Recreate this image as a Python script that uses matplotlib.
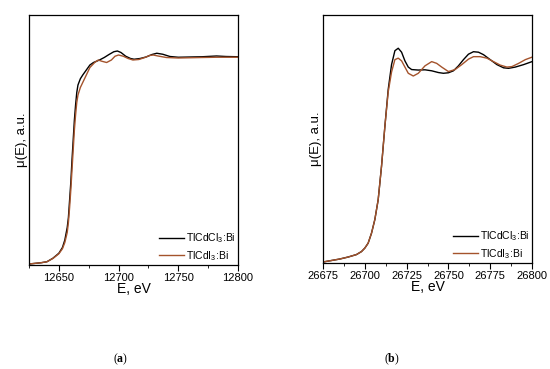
import matplotlib.pyplot as plt
from matplotlib.ticker import MultipleLocator

plt.rcParams['font.family'] = ['Liberation Sans', 'DejaVu Sans']
plt.rcParams['mathtext.fontset'] = 'custom'
plt.rcParams['mathtext.rm'] = 'Liberation Sans'
plt.rcParams['mathtext.bf'] = 'Liberation Serif:bold'

# (a) Tl/Bi L3 edge region, normalised mu(E)
ea_cl = [12625, 12635, 12640, 12645, 12650, 12653, 12655, 12657, 12658, 12659, 12660,
         12661, 12662, 12663, 12664, 12665, 12666, 12668, 12670, 12673, 12676, 12679,
         12684, 12688, 12692, 12696, 12699, 12702, 12706, 12710, 12713, 12718, 12723,
         12728, 12732, 12737, 12743, 12750, 12760, 12770, 12782, 12790, 12800]
mu_a_cl = [0.004, 0.009, 0.013, 0.027, 0.047, 0.07, 0.10, 0.15, 0.19, 0.26, 0.33,
           0.42, 0.50, 0.58, 0.64, 0.69, 0.72, 0.745, 0.76, 0.78, 0.80, 0.81,
           0.82, 0.83, 0.842, 0.853, 0.856, 0.85, 0.835, 0.826, 0.823, 0.826, 0.832,
           0.842, 0.847, 0.843, 0.834, 0.831, 0.832, 0.833, 0.836, 0.834, 0.833]
ea_i = [12625, 12635, 12640, 12645, 12650, 12653, 12655, 12657, 12658, 12659, 12660,
        12661, 12662, 12663, 12664, 12665, 12666, 12668, 12671, 12674, 12676, 12680,
        12683, 12686, 12690, 12694, 12697, 12700, 12704, 12708, 12712, 12717, 12722,
        12726, 12729, 12733, 12740, 12750, 12760, 12770, 12782, 12790, 12800]
mu_a_i = [0.004, 0.009, 0.013, 0.026, 0.045, 0.065, 0.09, 0.13, 0.17, 0.23, 0.30,
          0.38, 0.46, 0.54, 0.60, 0.65, 0.68, 0.71, 0.74, 0.77, 0.79, 0.81,
          0.82, 0.815, 0.81, 0.82, 0.835, 0.84, 0.835, 0.826, 0.82, 0.822, 0.83,
          0.838, 0.84, 0.836, 0.83, 0.828, 0.829, 0.83, 0.831, 0.831, 0.831]

# (b) Bi K edge region
eb_cl = [26675, 26680, 26685, 26690, 26695, 26698, 26700, 26702, 26704, 26706, 26708,
         26710, 26712, 26714, 26716, 26718, 26720, 26722, 26724, 26726, 26728, 26732,
         26736, 26740, 26744, 26747, 26750, 26753, 26756, 26759, 26762, 26765, 26768,
         26771, 26775, 26779, 26783, 26786, 26790, 26795, 26800]
mu_b_cl = [0.004, 0.01, 0.016, 0.024, 0.034, 0.046, 0.06, 0.08, 0.12, 0.175, 0.255,
           0.39, 0.55, 0.70, 0.80, 0.856, 0.866, 0.85, 0.815, 0.79, 0.78, 0.778,
           0.779, 0.775, 0.768, 0.765, 0.767, 0.775, 0.795, 0.82, 0.842, 0.852, 0.85,
           0.84, 0.82, 0.80, 0.787, 0.785, 0.79, 0.80, 0.812]
eb_i = [26675, 26680, 26685, 26690, 26695, 26698, 26700, 26702, 26704, 26706, 26708,
        26710, 26712, 26714, 26716, 26718, 26720, 26722, 26724, 26726, 26729, 26732,
        26736, 26740, 26743, 26746, 26750, 26754, 26758, 26762, 26765, 26769, 26773,
        26777, 26781, 26785, 26788, 26792, 26796, 26800]
mu_b_i = [0.004, 0.01, 0.016, 0.024, 0.034, 0.046, 0.06, 0.08, 0.12, 0.175, 0.255,
          0.39, 0.55, 0.69, 0.77, 0.82, 0.826, 0.815, 0.79, 0.765, 0.754, 0.765,
          0.795, 0.812, 0.805, 0.79, 0.772, 0.78, 0.80, 0.822, 0.832, 0.832, 0.826,
          0.812, 0.798, 0.79, 0.792, 0.805, 0.82, 0.83]

c_cl = 'black'
c_i = '#a4532c'

fig = plt.figure(figsize=(5.5, 3.69), dpi=100)
ax1 = fig.add_axes([29/550, 104/369, 209/550, 250/369])
ax2 = fig.add_axes([323/550, 106/369, 209/550, 248/369])

panels = [(ax1, ea_cl, mu_a_cl, ea_i, mu_a_i, (12625, 12800), 50, 'a', 121),
          (ax2, eb_cl, mu_b_cl, eb_i, mu_b_i, (26675, 26800), 25, 'b', 392)]

for ax, x1, y1, x2, y2, xl, step, tag, tx in panels:
    ax.plot(x1, y1, color=c_cl, lw=1.0, label='TlCdCl$_3$:Bi')
    ax.plot(x2, y2, color=c_i, lw=1.0, label='TlCdI$_3$:Bi')
    ax.set_xlim(*xl)
    ax.set_ylim(0, 1)
    ax.xaxis.set_major_locator(MultipleLocator(step))
    ax.xaxis.set_minor_locator(MultipleLocator(step / 2))
    ax.tick_params(axis='x', which='major', direction='out', length=4, width=0.8,
                   labelsize=8, pad=2)
    ax.tick_params(axis='x', which='minor', direction='out', length=2, width=0.6)
    ax.set_yticks([])
    for s in ax.spines.values():
        s.set_linewidth(0.9)
    ax.set_xlabel('E, eV', fontsize=10, labelpad=-1)
    ax.set_ylabel('μ(E), a.u.', fontsize=9.5, labelpad=1)
    ax.legend(loc='lower right', frameon=False, fontsize=7.5, handlelength=2.4,
              handletextpad=0.25, labelspacing=0.4, borderaxespad=0.0,
              borderpad=0.2)
    fig.text(tx / 550, 1 - 359 / 369, '(' + r'$\mathbf{' + tag + '}$' + ')',
             ha='center', va='center', fontsize=8.5, family='Liberation Serif')

fig.savefig('out.png', dpi=100)
